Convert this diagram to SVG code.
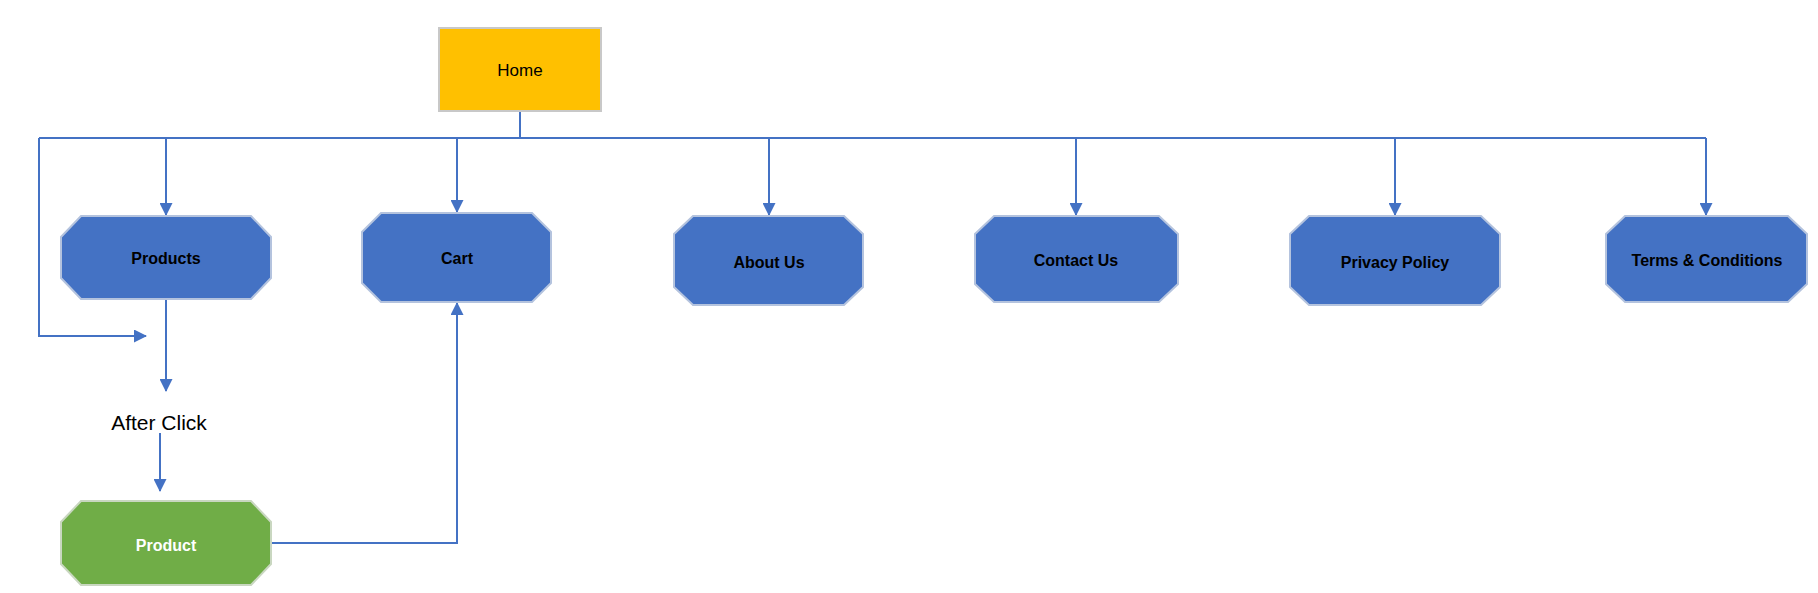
<svg xmlns="http://www.w3.org/2000/svg" width="1818" height="593" viewBox="0 0 1818 593">
<style>
.bg{fill:#ffffff}
.oct{fill:#4472C4;stroke:#B4C3DE;stroke-width:2}
.green{fill:#70AD47;stroke:#C9D7C0;stroke-width:2}
.lbl{font-family:"Liberation Sans",Arial,sans-serif;font-weight:bold;font-size:16px;fill:#000000;text-anchor:middle;dominant-baseline:central}
.wlbl{fill:#ffffff}
.conn{fill:none;stroke:#4472C4;stroke-width:2}
.plain{font-family:"Liberation Sans",Arial,sans-serif;text-anchor:middle;dominant-baseline:central;fill:#000000}
</style>
<defs>
<marker id="arr" markerWidth="13" markerHeight="13" refX="12" refY="6.5" orient="auto" markerUnits="userSpaceOnUse">
<path d="M0,0 L13,6.5 L0,13 Z" fill="#4472C4"/>
</marker>
</defs>
<rect class="bg" x="0" y="0" width="1818" height="593"/>

<g id="connectors">
<polyline class="conn" points="520,111 520,138"/>
<polyline class="conn" points="39,138 1706,138"/>
<polyline class="conn" points="166,138 166,215" marker-end="url(#arr)"/>
<polyline class="conn" points="457,138 457,212" marker-end="url(#arr)"/>
<polyline class="conn" points="769,138 769,215" marker-end="url(#arr)"/>
<polyline class="conn" points="1076,138 1076,215" marker-end="url(#arr)"/>
<polyline class="conn" points="1395,138 1395,215" marker-end="url(#arr)"/>
<polyline class="conn" points="1706,138 1706,215" marker-end="url(#arr)"/>
<polyline class="conn" points="39,138 39,336 146,336" marker-end="url(#arr)"/>
<polyline class="conn" points="166,299 166,391" marker-end="url(#arr)"/>
<polyline class="conn" points="160,433 160,491" marker-end="url(#arr)"/>
<polyline class="conn" points="271,543 457,543 457,303" marker-end="url(#arr)"/>
</g>

<g id="home">
<rect x="439" y="28" width="162" height="83" fill="#FFC000" stroke="#C8C8C8" stroke-width="2"/>
<text class="plain" x="520" y="70" font-size="17">Home</text>
</g>

<g id="products">
<polygon class="oct" points="81,216 251,216 271,237 271,278 251,299 81,299 61,278 61,237"/>
<text class="lbl" x="166" y="258">Products</text>
</g>

<g id="cart">
<polygon class="oct" points="381,213 532,213 551,232 551,283 532,302 381,302 362,283 362,232"/>
<text class="lbl" x="457" y="258">Cart</text>
</g>

<g id="about">
<polygon class="oct" points="693,216 844,216 863,234 863,287 844,305 693,305 674,287 674,234"/>
<text class="lbl" x="769" y="262">About Us</text>
</g>

<g id="contact">
<polygon class="oct" points="994,216 1159,216 1178,234 1178,284 1159,302 994,302 975,284 975,234"/>
<text class="lbl" x="1076" y="260">Contact Us</text>
</g>

<g id="privacy">
<polygon class="oct" points="1309,216 1481,216 1500,234 1500,287 1481,305 1309,305 1290,287 1290,234"/>
<text class="lbl" x="1395" y="262">Privacy Policy</text>
</g>

<g id="terms">
<polygon class="oct" points="1625,216 1788,216 1807,234 1807,284 1788,302 1625,302 1606,284 1606,234"/>
<text class="lbl" x="1707" y="260">Terms &amp; Conditions</text>
</g>

<g id="afterclick">
<text class="plain" x="159" y="422" font-size="21">After Click</text>
</g>

<g id="product">
<polygon class="green" points="81,501 251,501 271,522 271,564 251,585 81,585 61,564 61,522"/>
<text class="lbl wlbl" x="166" y="545">Product</text>
</g>
</svg>
